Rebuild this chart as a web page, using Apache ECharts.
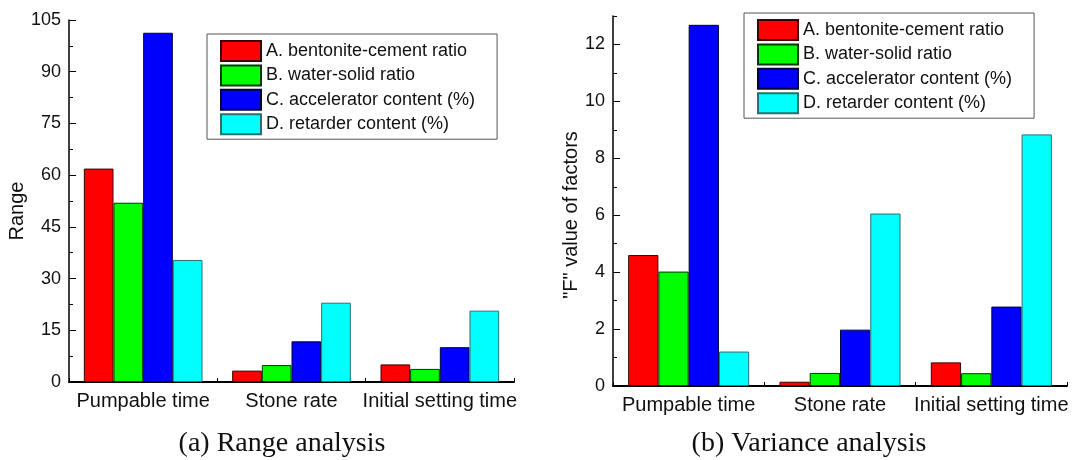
<!DOCTYPE html>
<html>
<head>
<meta charset="utf-8">
<script src="https://cdn.jsdelivr.net/npm/echarts@6/dist/echarts.min.js"></script>
<style>
  html, body { margin: 0; padding: 0; background: #fff; }
  #chart { width: 1083px; height: 460px; }
</style>
</head>
<body>
<div id="chart"></div>
<script>
// categories and factor names
const categories = ["Pumpable time", "Stone rate", "Initial setting time"];
const factors = [
  "A. bentonite-cement ratio",
  "B. water-solid ratio",
  "C. accelerator content (%)",
  "D. retarder content (%)"
];

// (a) range analysis, one array per factor
const rangeA = [61.9, 3.3, 5.1];
const rangeB = [52.0, 4.9, 3.8];
const rangeC = [101.3, 11.8, 10.1];
const rangeD = [35.4, 23.0, 20.7];

// (b) variance analysis, "F" values
const fA = [4.60, 0.15, 0.83];
const fB = [4.02, 0.46, 0.45];
const fC = [12.69, 1.98, 2.79];
const fD = [1.21, 6.06, 8.84];

// right axis tick values
const fMajorTicks = [0, 2, 4, 6, 8, 10, 12];
const fMinorTicks = [1, 3, 5, 7, 9, 11, 13];

const colors = ["#ff0000", "#00ff00", "#0000ff", "#00ffff"];
const borders = ["#3a0000", "#003a00", "#00003a", "#2e6e6e"];

const SANS = "'Liberation Sans', Arial, sans-serif";
const SERIF = "'Liberation Serif', 'Times New Roman', serif";

const chart = echarts.init(document.getElementById("chart"), null, { renderer: "canvas" });

const makeBars = (arrays, idx) =>
  arrays.map((values, i) => ({
    name: factors[i],
    type: "bar",
    xAxisIndex: idx,
    yAxisIndex: idx,
    data: values,
    barGap: "0%",
    barCategoryGap: "20%",
    itemStyle: { color: colors[i], borderColor: borders[i], borderWidth: 1 },
    emphasis: { disabled: true }
  }));

const xAxisBase = (gridIndex) => ({
  type: "category",
  gridIndex,
  data: categories,
  axisLine: { lineStyle: { color: "#000", width: 2 } },
  axisTick: { show: true, inside: true, length: 4, lineStyle: { color: "#000" } },
  axisLabel: { interval: 0, fontFamily: SANS, fontSize: 20, color: "#111", margin: 9 },
  splitLine: { show: false }
});

const legendBase = (left, top) => ({
  orient: "vertical",
  left,
  top,
  itemWidth: 40,
  itemHeight: 20,
  itemGap: 2.4,
  icon: "rect",
  selectedMode: false,
  padding: [6, 22, 4, 13],
  borderColor: "#555",
  borderWidth: 1,
  textStyle: { fontFamily: SANS, fontSize: 18, color: "#111", lineHeight: 20 },
  data: factors
});

const option = {
  animation: false,
  backgroundColor: "#fff",
  legend: [legendBase(207, 34), legendBase(744, 13)],
  grid: [
    { left: 69, top: 20, width: 445, height: 362, outerBoundsMode: "none" },
    { left: 613, top: 16, width: 454, height: 370, outerBoundsMode: "none" }
  ],
  xAxis: [xAxisBase(0), xAxisBase(1)],
  yAxis: [
    {
      type: "value",
      gridIndex: 0,
      min: 0,
      max: 105,
      interval: 15,
      name: "Range",
      nameLocation: "middle",
      nameGap: 42,
      nameTextStyle: { fontFamily: SANS, fontSize: 20, color: "#111", padding: [0, 20, 0, 0] },
      axisLine: { show: true, lineStyle: { color: "#000", width: 1.5 } },
      axisTick: { show: true, inside: true, length: 7, lineStyle: { color: "#000" } },
      minorTick: { show: true, splitNumber: 2, length: 4, lineStyle: { color: "#000" } },
      axisLabel: { fontFamily: SANS, fontSize: 18, color: "#111", margin: 8 },
      splitLine: { show: false }
    },
    {
      type: "value",
      gridIndex: 1,
      position: "left",
      min: 0,
      max: 13,
      interval: 1,
      name: '"F" value of factors',
      nameLocation: "middle",
      nameGap: 32,
      nameTextStyle: { fontFamily: SANS, fontSize: 20, color: "#111", padding: [0, 28, 0, 0] },
      axisLine: { show: true, lineStyle: { color: "#000", width: 1.5 } },
      axisTick: { show: true, inside: true, length: 7, customValues: fMajorTicks, lineStyle: { color: "#000" } },
      axisLabel: { fontFamily: SANS, fontSize: 18, color: "#111", margin: 8, customValues: fMajorTicks },
      splitLine: { show: false }
    },
    {
      // overlay carrying the short odd ticks of the right axis
      type: "value",
      gridIndex: 1,
      position: "left",
      min: 0,
      max: 13,
      interval: 1,
      axisLine: { show: false },
      axisTick: { show: true, inside: true, length: 4, customValues: fMinorTicks, lineStyle: { color: "#000" } },
      axisLabel: { show: false },
      splitLine: { show: false }
    }
  ],
  series: [
    ...makeBars([rangeA, rangeB, rangeC, rangeD], 0),
    ...makeBars([fA, fB, fC, fD], 1)
  ],
  graphic: [
    {
      type: "text",
      x: 282,
      y: 444,
      style: { text: "(a) Range analysis", font: "28px " + SERIF, fill: "#111", textAlign: "center", textVerticalAlign: "middle" }
    },
    {
      type: "text",
      x: 809,
      y: 444,
      style: { text: "(b) Variance analysis", font: "28px " + SERIF, fill: "#111", textAlign: "center", textVerticalAlign: "middle" }
    }
  ]
};

chart.setOption(option);
</script>
</body>
</html>
